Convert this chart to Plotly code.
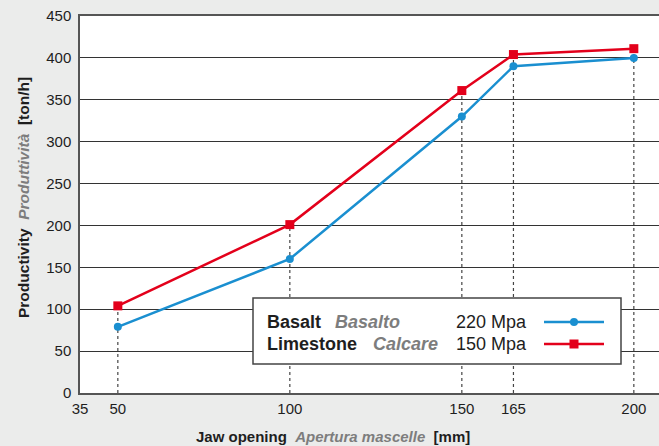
import plotly.graph_objects as go

# ---- data ----
jaw_opening = [50, 100, 150, 165, 200]
basalt = [79, 160, 330, 390, 400]
limestone = [104, 201, 361, 404, 411]
x_axis_min = 39
x_tick_vals = [x_axis_min, 50, 100, 150, 165, 200]
x_tick_text = ["35", "50", "100", "150", "165", "200"]
y_ticks = list(range(0, 451, 50))

BLUE = "#1a8fd0"
RED = "#e3001b"
GRAY_IT = "#7d7d7d"
TXT = "#1e1e1e"
BG = "#ebeceb"
FONT = "Liberation Sans, Arial, sans-serif"

W, H = 659, 446
L, R, T, B = 80, 0, 16, 53
PW, PH = W - L - R, H - T - B

def px(xp):
    return (xp - L) / PW

def py(yp):
    return (H - B - yp) / PH

fig = go.Figure()

# dotted guides from axis to top point
shapes = []
for xv, b, l in zip(jaw_opening, basalt, limestone):
    shapes.append(dict(type="line", xref="x", yref="y", x0=xv, x1=xv, y0=0, y1=max(b, l),
                       line=dict(color="#444444", width=1.2, dash="dot"), layer="below"))

fig.add_trace(go.Scatter(x=jaw_opening, y=basalt, mode="lines+markers", name="Basalt",
                         line=dict(color=BLUE, width=2.5),
                         marker=dict(symbol="circle", size=8, color=BLUE)))
fig.add_trace(go.Scatter(x=jaw_opening, y=limestone, mode="lines+markers", name="Limestone",
                         line=dict(color=RED, width=2.5),
                         marker=dict(symbol="square", size=9, color=RED)))

# legend box
shapes.append(dict(type="rect", xref="paper", yref="paper", x0=px(253), x1=px(621),
                   y0=py(364), y1=py(298), fillcolor="white",
                   line=dict(color="#444444", width=1.5), layer="above"))
rows = [
    ("Basalt", "Basalto", "220 Mpa", 322, 333, BLUE, "circle"),
    ("Limestone", "Calcare", "150 Mpa", 344, 371, RED, "square"),
]
annotations = []
for name, it_name, mpa, yc, xit, col, sym in rows:
    annotations.append(dict(text="<b>%s</b>" % name, x=px(265), y=py(yc), xref="paper", yref="paper",
                            xanchor="left", yanchor="middle", showarrow=False,
                            font=dict(size=18, color=TXT, family=FONT)))
    annotations.append(dict(text="<b><i>%s</i></b>" % it_name, x=px(xit), y=py(yc), xref="paper", yref="paper",
                            xanchor="left", yanchor="middle", showarrow=False,
                            font=dict(size=18, color=GRAY_IT, family=FONT)))
    annotations.append(dict(text=mpa, x=px(454), y=py(yc), xref="paper", yref="paper",
                            xanchor="left", yanchor="middle", showarrow=False,
                            font=dict(size=18, color=TXT, family=FONT)))
    shapes.append(dict(type="line", xref="paper", yref="paper", x0=px(544), x1=px(604),
                       y0=py(yc), y1=py(yc), line=dict(color=col, width=2.5), layer="above"))
    r = 4 if sym == "circle" else 4.5
    shapes.append(dict(type="circle" if sym == "circle" else "rect", xref="paper", yref="paper",
                       x0=px(574 - r), x1=px(574 + r), y0=py(yc + r), y1=py(yc - r),
                       fillcolor=col, line=dict(color=col, width=0), layer="above"))

# axis titles
annotations.append(dict(
    text="<b>Jaw opening</b>  <b><i><span style='color:%s'>Apertura mascelle</span></i></b>  <b>[mm]</b>" % GRAY_IT,
    x=px(333), y=py(437), xref="paper", yref="paper", xanchor="center", yanchor="middle",
    showarrow=False, font=dict(size=15, color=TXT, family=FONT)))
annotations.append(dict(
    text="<b>Productivity</b>  <b><i><span style='color:%s'>Produttività</span></i></b>  <b>[ton/h]</b>" % GRAY_IT,
    x=px(23), y=py(198), xref="paper", yref="paper", xanchor="center", yanchor="middle",
    textangle=-90, showarrow=False, font=dict(size=15.5, color=TXT, family=FONT)))

fig.update_layout(
    width=W, height=H,
    margin=dict(l=L, r=R, t=T, b=B),
    paper_bgcolor=BG, plot_bgcolor="white",
    showlegend=False,
    font=dict(family=FONT, size=15, color=TXT),
    shapes=shapes, annotations=annotations,
    xaxis=dict(range=[x_axis_min, x_axis_min + PW / 3.44], tickvals=x_tick_vals, ticktext=x_tick_text,
               showgrid=False, zeroline=False, showline=True, linecolor="#555555", linewidth=1.5,
               mirror=True, ticks="", ticklabelstandoff=1, tickfont=dict(size=15, color=TXT)),
    yaxis=dict(range=[0, 450], tickvals=y_ticks, showgrid=True, gridcolor="#333333", gridwidth=1,
               zeroline=False, showline=True, linecolor="#555555", linewidth=1.5,
               ticks="", ticklabelstandoff=4, tickfont=dict(size=15, color=TXT)),
)

fig.write_html("out.html", config={"displayModeBar": False},
               post_script="document.body.style.margin='0';document.body.style.overflow='hidden';"
                           "document.body.style.background='%s';" % BG)
